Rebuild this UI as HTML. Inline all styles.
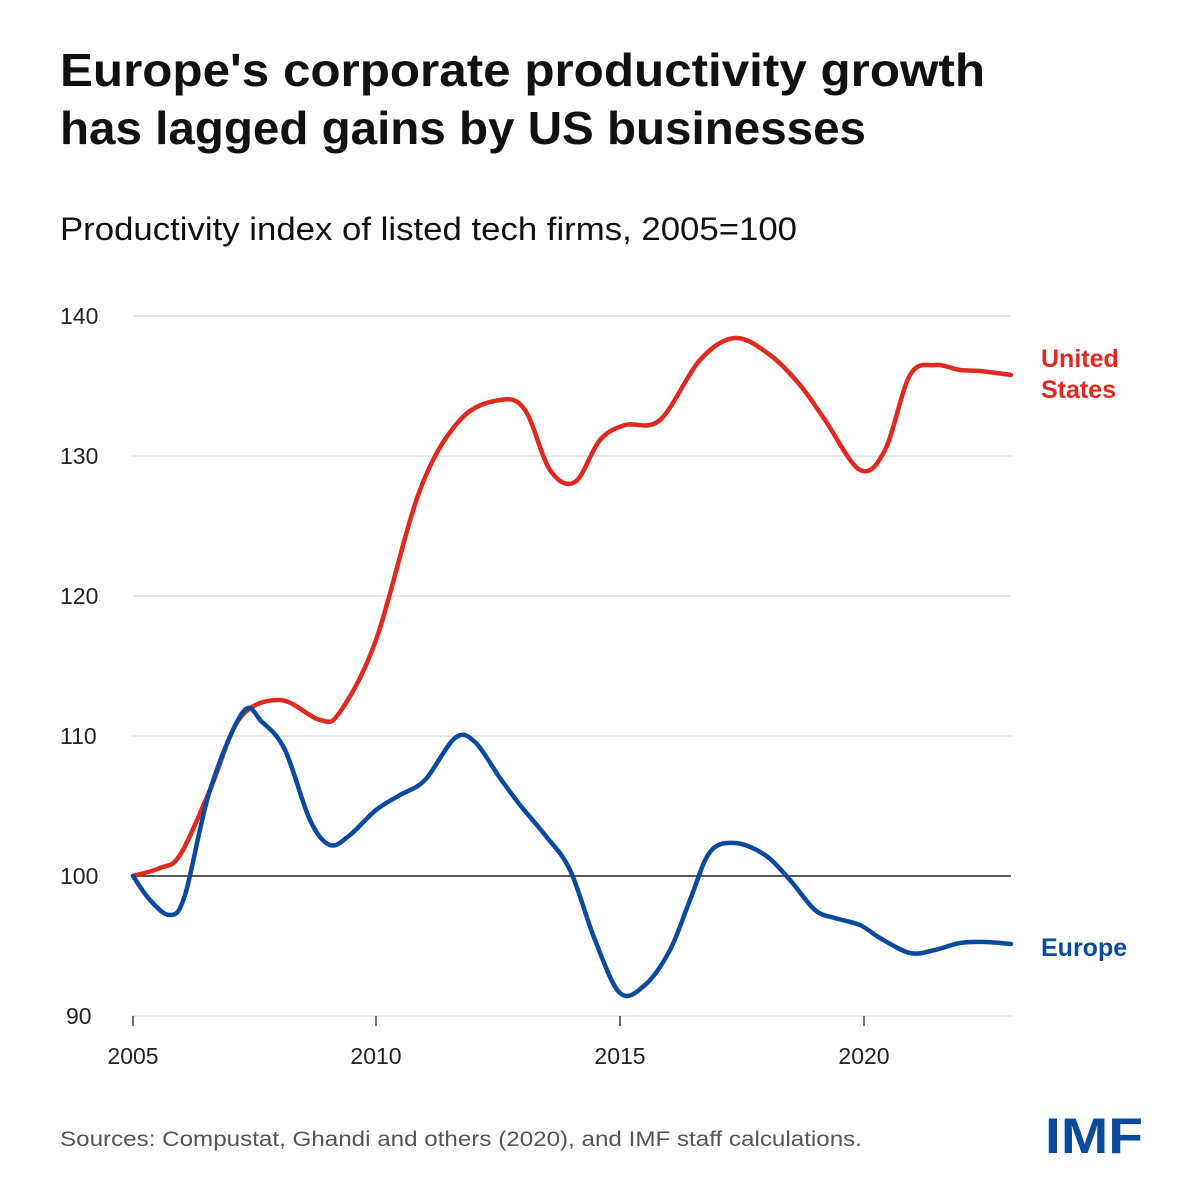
<!DOCTYPE html>
<html><head><meta charset="utf-8"><style>
html,body{margin:0;padding:0;background:#fff;}
body{width:1200px;height:1200px;position:relative;overflow:hidden;font-family:"Liberation Sans",sans-serif;}
</style></head><body>
<svg width="1200" height="1200" xmlns="http://www.w3.org/2000/svg" style="position:absolute;left:0;top:0">
<text x="60" y="86" font-size="46" font-weight="bold" fill="#111" textLength="925" lengthAdjust="spacingAndGlyphs">Europe's corporate productivity growth</text>
<text x="60" y="144" font-size="46" font-weight="bold" fill="#111" textLength="806" lengthAdjust="spacingAndGlyphs">has lagged gains by US businesses</text>
<text x="60" y="240" font-size="32" fill="#111" textLength="737" lengthAdjust="spacingAndGlyphs">Productivity index of listed tech firms, 2005=100</text>
<g stroke="#d9d9d9" stroke-width="1.3">
<line x1="133" x2="1011" y1="316" y2="316"/><line x1="133" x2="1011" y1="456" y2="456"/>
<line x1="133" x2="1011" y1="596" y2="596"/><line x1="133" x2="1011" y1="736" y2="736"/>
<line x1="133" x2="1011" y1="1016" y2="1016"/>
</g>
<line x1="133" x2="1011" y1="876" y2="876" stroke="#222" stroke-width="1.5"/>
<g stroke="#222" stroke-width="1.3">
<line x1="133" x2="133" y1="1016" y2="1026"/><line x1="376" x2="376" y1="1016" y2="1026"/>
<line x1="620" x2="620" y1="1016" y2="1026"/><line x1="864" x2="864" y1="1016" y2="1026"/>
</g>
<g font-size="23" fill="#222">
<text x="60" y="324">140</text><text x="60" y="464">130</text><text x="60" y="604">120</text>
<text x="60" y="744">110</text><text x="60" y="884">100</text><text x="66" y="1024">90</text>
<text x="133" y="1064" text-anchor="middle">2005</text><text x="376" y="1064" text-anchor="middle">2010</text>
<text x="620" y="1064" text-anchor="middle">2015</text><text x="864" y="1064" text-anchor="middle">2020</text>
</g>
<path id="us" fill="none" stroke="#e0291f" stroke-width="4.5" stroke-linecap="round" stroke-linejoin="round"/>
<path id="eu" fill="none" stroke="#0a4a9e" stroke-width="4.5" stroke-linecap="round" stroke-linejoin="round"/>
<text x="1041" y="367" font-size="25" font-weight="bold" fill="#e0291f">United</text>
<text x="1041" y="398" font-size="25" font-weight="bold" fill="#e0291f">States</text>
<text x="1041" y="956" font-size="25" font-weight="bold" fill="#0a4a9e">Europe</text>
<text x="60" y="1146" font-size="21" fill="#555" textLength="802" lengthAdjust="spacingAndGlyphs">Sources: Compustat, Ghandi and others (2020), and IMF staff calculations.</text>
<text x="1045" y="1153" font-size="50" font-weight="bold" fill="#0a4a9e" textLength="98" lengthAdjust="spacingAndGlyphs">IMF</text>
</svg>
<script>
function cr(p){var d="M"+p[0][0]+","+p[0][1];for(var i=0;i<p.length-1;i++){var p0=p[i-1]||p[i],p1=p[i],p2=p[i+1],p3=p[i+2]||p2;
d+=" C"+(p1[0]+(p2[0]-p0[0])/6)+","+(p1[1]+(p2[1]-p0[1])/6)+" "+(p2[0]-(p3[0]-p1[0])/6)+","+(p2[1]-(p3[1]-p1[1])/6)+" "+p2[0]+","+p2[1];}return d;}
var us=[[133,876],[160,868],[180,855],[210,790],[240,718],[280,700],[320,720],[340,712],[376,640],[420,490],[460,420],[500,400],[525,410],[550,470],[575,482],[600,440],[625,425],[660,420],[700,360],[735,338],[770,355],[800,385],[825,420],[860,470],[885,450],[910,375],[935,365],[960,370],[980,371],[1011,375]];
var eu=[[133,876],[150,900],[170,915],[185,895],[210,790],[243,712],[262,722],[285,750],[310,820],[330,845],[350,835],[376,810],[400,795],[425,780],[455,738],[475,742],[500,778],[520,805],[545,835],[570,870],[595,940],[620,993],[645,985],[670,950],[690,900],[710,852],[735,843],[765,855],[790,880],[815,910],[835,918],[860,925],[880,938],[910,953],[935,950],[960,943],[985,942],[1011,944]];
document.getElementById("us").setAttribute("d",cr(us));
document.getElementById("eu").setAttribute("d",cr(eu));
</script>
</body></html>
